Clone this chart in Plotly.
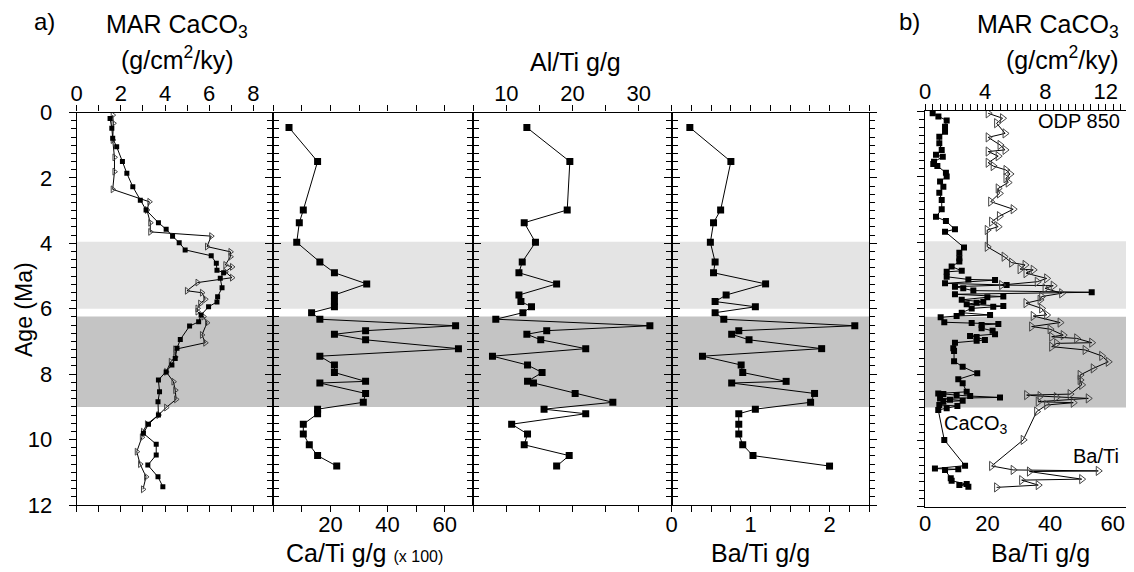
import plotly.graph_objects as go

W, H = 1134, 572
OFF = 8  # page body margin
FW, FH = W - OFF, H - OFF
FONT = "Liberation Sans, Arial, sans-serif"

# ---------------- data ----------------
# panel a1: MAR CaCO3 (two series)
a1_sq_age = [0.18,0.48,0.79,1.05,1.5,1.86,2.27,2.68,2.98,3.37,3.57,3.78,3.98,4.2,4.38,4.61,4.82,4.9,5.07,5.36,5.63,5.79,5.94,6.19,6.4,6.53,6.94,7.21,7.52,7.72,7.93,8.18,8.54,8.84,9.25,9.53,9.81,10.14,10.47,10.78,11.14,11.44]
a1_sq_mar = [1.51,1.59,1.63,1.81,2.07,2.27,2.54,2.88,3.14,3.7,4.05,4.34,4.64,4.91,6.09,6.32,6.35,6.65,6.5,6.58,6.38,6.35,5.97,5.63,5.52,5.11,4.69,4.54,4.46,4.31,4.05,3.7,3.75,3.68,3.7,3.25,3.02,3.6,3.6,3.22,3.68,3.9]
a1_tr_age = [0.08,0.33,0.84,1.37,1.81,2.35,2.73,2.98,3.37,3.65,3.78,4.1,4.26,4.41,4.66,4.72,4.87,5.05,5.2,5.45,5.51,5.71,5.84,5.99,6.09,6.24,6.43,6.8,7.04,7.24,7.47,7.62,7.93,8.23,8.49,8.77,9.02,9.25,9.53,9.76,9.93,10.37,10.75,11.14,11.52]
a1_tr_mar = [1.63,1.66,1.63,1.71,1.71,1.63,3.29,3.18,3.33,3.33,6.09,5.9,6.96,6.96,6.73,7.03,6.73,7.03,5.47,4.99,5.67,5.82,5.59,5.47,5.47,5.74,5.9,5.67,5.82,4.46,4.46,4.26,4.05,4.38,4.46,4.5,4.05,3.7,3.18,3.0,2.95,2.72,2.87,3.14,3.0]

# panels a2-a4: geochemistry samples
geo_age = [0.46,1.5,2.98,3.37,3.97,4.57,4.9,5.24,5.58,5.78,5.94,6.12,6.32,6.52,6.67,6.78,6.95,7.22,7.45,7.72,7.95,8.22,8.27,8.59,8.86,9.07,9.21,9.53,9.83,10.16,10.49,10.81]
ca_ti = [5.5,15.5,10.5,9.1,8.2,16.3,21.4,32.7,21.4,21.4,21.4,13.4,16.3,63.8,32.3,21.4,32.3,64.8,16.3,21.4,21.4,32.3,16.3,32.3,31.5,15.5,15.5,10.5,10.5,12.6,15.5,22.2]
al_ti = [13.1,19.6,19.2,12.7,14.4,12.4,11.9,17.6,11.9,12.2,13.8,12.5,8.4,31.7,16.1,13.1,15.2,22.0,7.9,13.2,15.4,13.2,14.1,20.4,26.1,15.7,22.0,10.8,13.2,12.7,19.5,17.6]
ba_ti = [0.23,0.75,0.62,0.53,0.49,0.55,0.53,1.19,0.69,0.55,1.06,0.55,0.66,2.32,0.85,0.76,0.98,1.9,0.39,0.88,0.9,1.45,0.76,1.81,1.76,1.06,0.85,0.85,0.85,0.9,1.03,2.0]

# panel b: ODP 850
b_caco3_age = [0.07,0.17,0.29,0.48,0.63,0.78,0.98,1.18,1.33,1.39,1.54,1.61,1.67,1.87,1.99,2.14,2.3,2.48,2.7,2.98,3.21,3.34,3.59,3.66,4.14,4.3,4.47,4.57,4.72,4.85,4.88,5.03,5.11,5.13,5.23,5.28,5.33,5.38,5.45,5.5,5.56,5.63,5.65,5.73,5.79,5.82,5.86,5.92,5.94,5.99,6.12,6.19,6.22,6.26,6.41,6.43,6.46,6.49,6.59,6.67,6.77,6.83,6.86,6.95,6.97,7.03,7.2,7.28,7.59,7.76,7.96,8.14,8.26,8.52,8.57,8.59,8.62,8.65,8.69,8.72,8.76,8.79,8.82,8.92,8.95,9.02,9.07,9.98,10.76,10.85,10.87,10.89,11.14,11.22,11.32,11.35,11.4]
b_caco3 = [0.51,0.89,1.44,1.33,1.33,0.95,0.95,1.11,0.73,1.18,0.6,0.55,0.82,1.39,1.44,1.0,1.22,0.95,1.11,1.11,0.73,1.39,1.99,1.33,2.59,2.28,2.28,2.28,1.77,2.44,1.44,1.44,2.88,4.65,1.33,5.42,1.99,2.54,3.21,11.07,1.99,5.2,4.14,2.44,3.87,3.43,2.77,5.2,4.53,3.1,2.44,4.32,2.1,1.04,1.28,3.1,4.87,3.76,3.76,4.49,4.65,2.99,3.43,3.98,3.43,1.99,1.88,1.93,1.93,2.5,3.47,2.21,2.5,2.77,0.88,1.22,2.1,3.0,4.98,1.0,1.66,2.5,1.22,0.95,2.15,1.44,0.88,1.28,2.66,0.66,2.21,1.33,1.71,1.77,2.77,2.28,2.88]
b_bati_age = [0.07,0.22,0.37,0.68,0.8,1.03,1.18,1.23,1.37,1.57,1.67,1.79,1.91,2.04,2.17,2.35,2.5,2.75,2.98,3.19,3.36,3.51,3.61,4.12,4.42,4.6,4.67,4.8,4.82,4.92,5.08,5.18,5.28,5.3,5.38,5.53,5.63,5.73,5.83,5.99,6.19,6.22,6.42,6.54,6.62,6.8,6.85,6.9,7.03,7.05,7.15,7.25,7.43,7.61,7.81,8.01,8.16,8.31,8.59,8.62,8.65,8.68,8.72,8.82,8.85,8.92,9.12,9.98,10.77,10.89,10.92,10.94,11.17,11.2,11.35,11.42]
b_bati = [20.2,24.8,22.9,25.6,20.2,24.0,25.6,20.2,23.4,20.2,21.8,25.9,27.2,25.9,26.6,23.4,23.8,21.0,28.2,23.8,21.3,23.4,19.9,19.9,25.3,27.7,32.0,30.4,34.6,32.3,38.9,35.9,24.5,41.0,38.4,43.7,37.3,36.8,32.3,37.3,38.9,34.6,43.2,34.1,40.0,44.2,40.5,48.5,53.3,42.1,40.5,51.2,56.5,58.6,53.8,49.6,49.6,50.1,46.4,32.5,36.8,42.0,52.2,36.2,47.4,38.9,35.7,31.4,21.3,28.2,55.4,33.4,50.1,30.9,36.2,22.9]

light_band = [3.95, 6.0]
dark_band = [6.24, 9.0]

# ---------------- layout helpers (target-pixel -> paper) ----------------
def px(x):
    return (x - OFF) / FW

def py(y):
    return 1 - (y - OFF) / FH

ydom_a = [py(505), py(112.5)]
ydom_b = [py(506.5), py(111)]

fig = go.Figure()

line_k = dict(color="black", width=1)
sq = lambda s: dict(symbol="square", size=s, color="black", line=dict(width=0))
tri = lambda s: dict(symbol="triangle-right-open", size=s, color="#444444", line=dict(width=1, color="#444444"))

# a1
fig.add_trace(go.Scatter(x=a1_tr_mar, y=a1_tr_age, mode="lines+markers", line=line_k, marker=tri(6), xaxis="x", yaxis="y"))
fig.add_trace(go.Scatter(x=a1_sq_mar, y=a1_sq_age, mode="lines+markers", line=line_k, marker=sq(5), xaxis="x", yaxis="y"))
# a2
fig.add_trace(go.Scatter(x=ca_ti, y=geo_age, mode="lines+markers", line=line_k, marker=sq(7), xaxis="x2", yaxis="y2"))
# a3
fig.add_trace(go.Scatter(x=al_ti, y=geo_age, mode="lines+markers", line=line_k, marker=sq(7), xaxis="x3", yaxis="y3"))
# a4
fig.add_trace(go.Scatter(x=ba_ti, y=geo_age, mode="lines+markers", line=line_k, marker=sq(7), xaxis="x4", yaxis="y4"))
# b
fig.add_trace(go.Scatter(x=b_bati, y=b_bati_age, mode="lines+markers", line=line_k, marker=tri(8), xaxis="x6", yaxis="y5"))
fig.add_trace(go.Scatter(x=b_caco3, y=b_caco3_age, mode="lines+markers", line=line_k, marker=sq(6), xaxis="x5", yaxis="y5"))

TICKF = dict(family=FONT, size=22, color="black")

def xax(dom, rng, side, dtick, minor, tickvals=None, show=True, anchor="y", ticks="outside", mirror="ticks"):
    d = dict(domain=dom, range=rng, side=side, anchor=anchor, showgrid=False, zeroline=False,
             automargin=False,
             showline=True, linecolor="black", linewidth=1.3, mirror=mirror,
             ticks=ticks, ticklen=6, tickwidth=1, tickcolor="black",
             tickfont=TICKF, showticklabels=show,
             ticklabelstandoff=(-7 if side == "bottom" else -4),
             minor=dict(dtick=minor, ticks=ticks, ticklen=6, tickwidth=1, tickcolor="black", showgrid=False))
    if tickvals is not None:
        d["tickmode"] = "array"
        d["tickvals"] = tickvals
    else:
        d["dtick"] = dtick
        d["tick0"] = 0
    return d

def yax(dom, anchor, show=False, mirror="ticks"):
    return dict(domain=dom, range=[12, 0], anchor=anchor, showgrid=False, zeroline=False,
                automargin=False,
                showline=True, linecolor="black", linewidth=1.3, mirror=mirror,
                ticks="outside", ticklen=7, tickwidth=1, tickcolor="black", dtick=2, tick0=0,
                tickfont=TICKF, showticklabels=show, ticklabelstandoff=12,
                minor=dict(dtick=0.25, ticks="outside", ticklen=5, tickwidth=1, tickcolor="black", showgrid=False))

a1 = [px(76.7), px(273.3)]
a2 = [px(273.3), px(473.3)]
a3 = [px(473.3), px(671.7)]
a4 = [px(671.7), px(869)]
bb = [px(925), px(1128.3)]

fig.update_layout(
    template="none",
    xaxis=xax(a1, [0, 8.9], "top", 2, 1, anchor="y"),
    yaxis=yax(ydom_a, "x", show=True),
    xaxis2=xax(a2, [0, 70], "bottom", None, 10, tickvals=[20, 40, 60], anchor="y2"),
    yaxis2=yax(ydom_a, "x2"),
    xaxis3=xax(a3, [5, 35], "top", None, 5, tickvals=[10, 20, 30], anchor="y3"),
    yaxis3=yax(ydom_a, "x3"),
    xaxis4=xax(a4, [0, 2.5], "bottom", None, 0.25, tickvals=[0, 1, 2], anchor="y4"),
    yaxis4=yax(ydom_a, "x4"),
    xaxis5=xax(bb, [0, 13.5], "top", 4, 0.5, anchor="y5", mirror=False),
    xaxis6=dict(domain=bb, range=[0, 65], side="bottom", anchor="y5", overlaying="x5",
                automargin=False,
                showgrid=False, zeroline=False, showline=True, linecolor="black", linewidth=1.3,
                ticks="", tickvals=[0, 20, 40, 60], tickmode="array", tickfont=TICKF,
                ticklabelstandoff=-3),
    yaxis5=yax(ydom_b, "x5", mirror=True),
)

# shaded bands
shapes = []
for xr, yr in [("x", "y"), ("x2", "y2"), ("x3", "y3"), ("x4", "y4"), ("x5", "y5")]:
    shapes.append(dict(type="rect", xref=xr + " domain", yref=yr, x0=0, x1=1, y0=light_band[0], y1=light_band[1],
                       fillcolor="#e4e4e4", line=dict(width=0), layer="below"))
    shapes.append(dict(type="rect", xref=xr + " domain", yref=yr, x0=0, x1=1, y0=dark_band[0], y1=dark_band[1],
                       fillcolor="#c4c4c4", line=dict(width=0), layer="below"))

def ann(text, x, y, size=25, xanchor="center", textangle=0):
    return dict(text=text, x=px(x), y=py(y), xref="paper", yref="paper", showarrow=False,
                xanchor=xanchor, yanchor="middle", textangle=textangle,
                font=dict(family=FONT, size=size, color="black"))

annotations = [
    ann("a)", 44, 22, 24),
    ann("MAR CaCO<sub>3</sub>", 177, 26),
    ann("(g/cm<sup>2</sup>/ky)", 177, 58),
    ann("Al/Ti g/g", 575, 62),
    ann("Ca/Ti g/g <span style='font-size:16px'>(x 100)</span>", 364, 553),
    ann("Ba/Ti g/g", 760, 553),
    ann("Age (Ma)", 24, 310, 23, textangle=-90),
    ann("b)", 909, 22, 24),
    ann("MAR CaCO<sub>3</sub>", 1048, 26),
    ann("(g/cm<sup>2</sup>/ky)", 1062, 58),
    ann("Ba/Ti g/g", 1040, 553),
    ann("ODP 850", 1122, 121, 20, xanchor="right"),
    ann("CaCO<sub>3</sub>", 942, 424, 20, xanchor="left"),
    ann("Ba/Ti", 1121, 456, 20, xanchor="right"),
]

fig.update_layout(
    width=FW, height=FH, margin=dict(l=0, r=0, t=0, b=0, pad=0, autoexpand=False),
    paper_bgcolor="white", plot_bgcolor="rgba(0,0,0,0)",
    showlegend=False, shapes=shapes, annotations=annotations,
    font=dict(family=FONT, color="black"),
)

fig.write_html("out.html")
